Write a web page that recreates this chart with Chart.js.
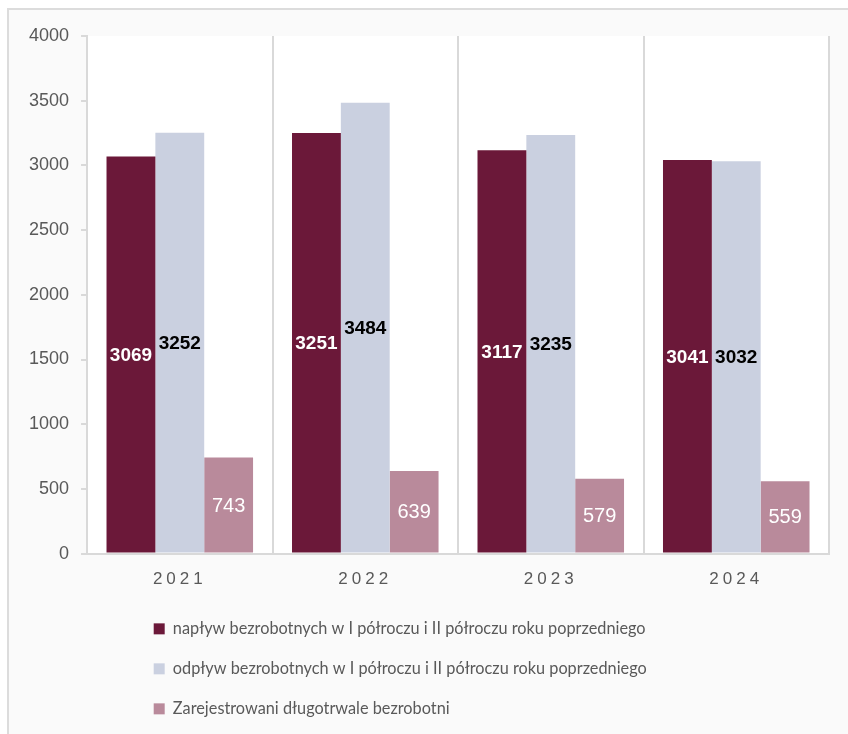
<!DOCTYPE html>
<html>
<head>
<meta charset="utf-8">
<script src="https://cdn.jsdelivr.net/npm/chart.js@4/dist/chart.umd.min.js"></script>
<style>
  html, body { margin: 0; padding: 0; background: #fff; overflow: hidden; }
  #frame {
    position: absolute; left: 7px; top: 8px; width: 841px; height: 726px;
    border-left: 2px solid #dcdcdc; border-top: 2px solid #dcdcdc;
    background: #fafafa;
  }
  #chart { display: block; }
</style>
</head>
<body>
<div id="frame"><canvas id="chart" width="839" height="724"></canvas></div>
<script>
// data
let years = ["2021", "2022", "2023", "2024"];
let naplyw = [3069, 3251, 3117, 3041];
let odplyw = [3252, 3484, 3235, 3032];
let dlugotrwale = [743, 639, 579, 559];

let seriesNames = [
  "napływ bezrobotnych w I półroczu i II półroczu roku poprzedniego",
  "odpływ bezrobotnych w I półroczu i II półroczu roku poprzedniego",
  "Zarejestrowani długotrwale bezrobotni"
];

let gridColor = "#d9d9d9";
let textColor = "#595959";

// category axis with spaced-out letters, like the original
class SpacedCategoryScale extends Chart.CategoryScale {
  drawLabels(area) {
    this.ctx.save();
    this.ctx.letterSpacing = "4px";
    super.drawLabels(area);
    this.ctx.restore();
  }
}
SpacedCategoryScale.id = "spacedCategory";
SpacedCategoryScale.defaults = Chart.CategoryScale.defaults;
Chart.register(SpacedCategoryScale);

// white plot area + legend rows moved to the left start
const layoutTweaks = {
  id: "layoutTweaks",
  afterLayout(chart) {
    let lg = chart.legend;
    lg.left = 121;
    lg.right = 700;
    lg.width = lg.right - lg.left;
    lg.top -= 9;
    lg.bottom -= 9;
  },
  beforeDraw(chart) {
    let a = chart.chartArea;
    let ctx = chart.ctx;
    ctx.save();
    ctx.fillStyle = "#ffffff";
    ctx.fillRect(a.left, a.top, a.right - a.left, a.bottom - a.top);
    ctx.restore();
  }
};

// value labels in the middle of each bar
let labelStyles = [
  { color: "#ffffff", font: "bold 19px 'Liberation Sans', Arial, sans-serif" },
  { color: "#000000", font: "bold 19px 'Liberation Sans', Arial, sans-serif" },
  { color: "#ffffff", font: "20px 'Liberation Sans', Arial, sans-serif" }
];

const barLabels = {
  id: "barLabels",
  afterDatasetsDraw(chart) {
    let ctx = chart.ctx;
    ctx.save();
    ctx.textAlign = "center";
    ctx.textBaseline = "middle";
    chart.data.datasets.forEach((ds, i) => {
      let meta = chart.getDatasetMeta(i);
      ctx.fillStyle = labelStyles[i].color;
      ctx.font = labelStyles[i].font;
      meta.data.forEach((bar, j) => {
        let y = (bar.y + bar.base) / 2;
        ctx.fillText(String(ds.data[j]), bar.x, y + 1);
      });
    });
    ctx.restore();
  }
};

new Chart(document.getElementById("chart"), {
  type: "bar",
  data: {
    labels: years,
    datasets: [
      { label: seriesNames[0], data: naplyw, backgroundColor: "#6b1839" },
      { label: seriesNames[1], data: odplyw, backgroundColor: "#cad0e0" },
      { label: seriesNames[2], data: dlugotrwale, backgroundColor: "#b98a9b" }
    ]
  },
  options: {
    responsive: false,
    animation: false,
    devicePixelRatio: 1,
    categoryPercentage: 0.79,
    barPercentage: 1,
    layout: { padding: { top: 26, left: 8, right: 19, bottom: -2 } },
    plugins: {
      tooltip: { enabled: false },
      legend: {
        position: "bottom",
        align: "start",
        maxWidth: 600,
        labels: {
          boxWidth: 11,
          boxHeight: 11,
          padding: 23.7,
          color: textColor,
          font: { family: "Lato, 'Liberation Sans', sans-serif", size: 16.3 }
        }
      }
    },
    scales: {
      x: {
        type: "spacedCategory",
        offset: true,
        grid: {
          offset: true,
          color: gridColor,
          lineWidth: 2,
          drawTicks: false
        },
        border: { color: gridColor, width: 2 },
        ticks: {
          color: textColor,
          padding: 16,
          font: { family: "'Liberation Sans', Arial, sans-serif", size: 17 }
        }
      },
      y: {
        min: 0,
        max: 4000,
        ticks: {
          stepSize: 500,
          color: textColor,
          padding: 12,
          callback: v => String(v),
          font: { family: "'Liberation Sans', Arial, sans-serif", size: 18 }
        },
        grid: {
          drawOnChartArea: false,
          color: gridColor,
          lineWidth: 2,
          tickLength: 6
        },
        border: { color: gridColor, width: 2 }
      }
    }
  },
  plugins: [layoutTweaks, barLabels]
});
</script>
</body>
</html>
